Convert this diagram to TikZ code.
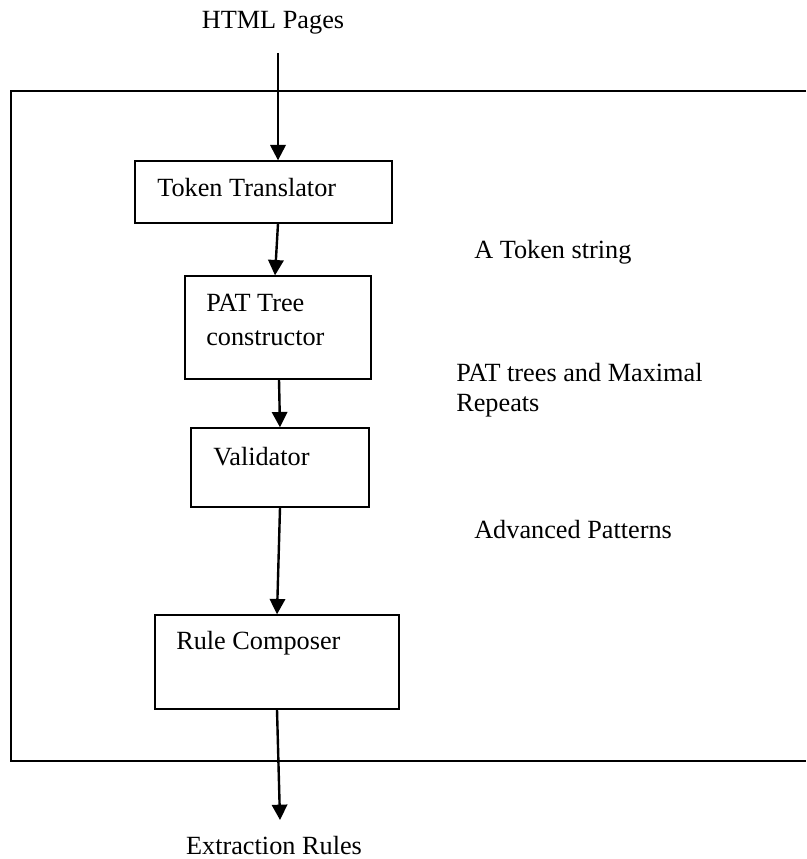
\documentclass[tikz,border=0pt]{standalone}
\usepackage{fontspec}
\setmainfont{Liberation Serif}
\usetikzlibrary{arrows.meta,fit}
\newcommand{\fsz}{\fontsize{19.7pt}{25.5pt}\selectfont}
\begin{document}
\begin{tikzpicture}[x=0.75pt,y=-0.75pt,
  box/.style={draw,line width=1pt,inner sep=0pt},
  arr/.style={line width=1.8pt,-{Triangle[width=11.5pt,length=11.5pt]}},
  lbl/.style={inner sep=0pt,font=\fsz}]
\useasboundingbox (0,0) rectangle (806,859);
\draw[line width=1pt] (806,91) -- (11,91) -- (11,761) -- (806,761);
\node[box,fit={(135,161)(392,223)}] (tt) {};
\node[box,fit={(185,276)(371,379)}] (pat) {};
\node[box,fit={(191,428)(369,507)}] (val) {};
\node[box,fit={(155,615)(399,709)}] (rc) {};
\node[lbl] (html) at (273,23) {HTML Pages};
\node[lbl,anchor=west] (ttt) at (157,188) {Token Translator};
\node[lbl,anchor=west,align=left] (patt) at (206,320) {PAT Tree\\constructor};
\node[lbl,anchor=west] (valt) at (213,457) {Validator};
\node[lbl,anchor=west] (rct) at (176,643) {Rule Composer};
\node[lbl,anchor=west] (l1) at (474,252) {A Token string};
\node[lbl,anchor=west,align=left,font=\fontsize{19.7pt}{22.5pt}\selectfont] (l2) at (456,390) {PAT trees and Maximal\\Repeats};
\node[lbl,anchor=west] (l3) at (474,530) {Advanced Patterns};
\node[lbl] (ext) at (274,846) {Extraction Rules};
\coordinate (in) at (278,53);
\coordinate (out) at (280,820);
\draw[arr] (in) -- (tt.north -| in);
\draw[arr] (tt.south -| 278,0) -- (pat.north -| 275,0);
\draw[arr] (pat.south -| 279,0) -- (val.north -| 280,0);
\draw[arr] (val.south -| 280,0) -- (rc.north -| 277,0);
\draw[arr] (rc.south -| 277,0) -- (out);
\end{tikzpicture}
\end{document}
